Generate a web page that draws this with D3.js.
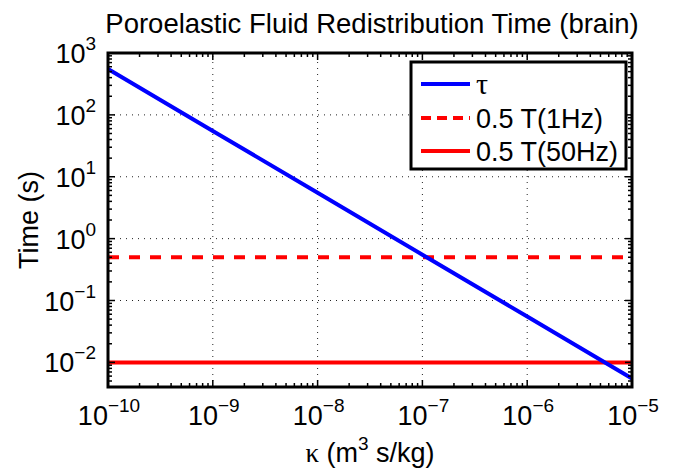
<!DOCTYPE html>
<html>
<head>
<meta charset="utf-8">
<script src="https://cdn.jsdelivr.net/npm/d3@7"></script>
<style>
  body { margin: 0; background: #fff; }
  text { font-family: "Liberation Sans", Arial, Helvetica, sans-serif; fill: #000; }
</style>
</head>
<body>
<div id="chart"></div>
<script>
// permeability values (m^3 s/kg) and the redistribution time
const kappa = [1e-10, 1e-9, 1e-8, 1e-7, 1e-6, 1e-5];
const tau = [550, 55, 5.5, 0.55, 0.055, 0.0055];
// half periods of the loading
const halfT1Hz = [0.5, 0.5];
const halfT50Hz = [0.01, 0.01];
const kappaRange = [1e-10, 1e-5];
const timeRange = [0.004, 1000];
const xTickExps = [-10, -9, -8, -7, -6, -5];
const yTickExps = [-2, -1, 0, 1, 2, 3];
const legendLabels = ["τ", "0.5 T(1Hz)", "0.5 T(50Hz)"];

const width = 674, height = 468;
const margin = { top: 53, right: 42, bottom: 81, left: 108 };
const x0 = margin.left, x1 = width - margin.right;
const y0 = height - margin.bottom, y1 = margin.top;

const svg = d3.select("#chart").append("svg")
    .attr("width", width)
    .attr("height", height);

svg.append("rect").attr("width", width).attr("height", height).attr("fill", "#fff");

const x = d3.scaleLog().domain(kappaRange).range([x0, x1]);
const y = d3.scaleLog().domain(timeRange).range([y0, y1]);

// minor ticks 2..9 per decade inside the domain
function minorTicks(scale) {
    const [a, b] = scale.domain();
    const out = [];
    for (let e = Math.floor(Math.log10(a)); e <= Math.ceil(Math.log10(b)); e++) {
        for (let m = 2; m <= 9; m++) {
            const v = m * Math.pow(10, e);
            if (v > a && v < b) out.push(v);
        }
    }
    return out;
}

// grid (dotted)
const grid = svg.append("g")
    .attr("stroke", "#222")
    .attr("stroke-width", 1)
    .attr("stroke-dasharray", "1,5");
xTickExps.slice(1, -1).forEach(e => {
    grid.append("line")
        .attr("x1", x(Math.pow(10, e))).attr("x2", x(Math.pow(10, e)))
        .attr("y1", y0).attr("y2", y1);
});
yTickExps.slice(0, -1).forEach(e => {
    grid.append("line")
        .attr("x1", x0).attr("x2", x1)
        .attr("y1", y(Math.pow(10, e))).attr("y2", y(Math.pow(10, e)));
});

// data lines
const plot = svg.append("g");
const line = d3.line().x(d => x(d[0])).y(d => y(d[1]));

plot.append("path")
    .datum(kappaRange.map((k, i) => [k, halfT50Hz[i]]))
    .attr("d", line)
    .attr("fill", "none")
    .attr("stroke", "#ff0000")
    .attr("stroke-width", 4);

plot.append("path")
    .datum(kappaRange.map((k, i) => [k, halfT1Hz[i]]))
    .attr("d", line)
    .attr("fill", "none")
    .attr("stroke", "#ff0000")
    .attr("stroke-width", 4)
    .attr("stroke-dasharray", "11,10");

plot.append("path")
    .datum(kappa.map((k, i) => [k, tau[i]]))
    .attr("d", line)
    .attr("fill", "none")
    .attr("stroke", "#0000ff")
    .attr("stroke-width", 4);

// ticks on all four sides, pointing inward
const ticks = svg.append("g").attr("stroke", "#000").attr("stroke-width", 1.5);
const majorLen = 7, minorLen = 4;
function xTick(v, len) {
    ticks.append("line").attr("x1", x(v)).attr("x2", x(v)).attr("y1", y0).attr("y2", y0 - len);
    ticks.append("line").attr("x1", x(v)).attr("x2", x(v)).attr("y1", y1).attr("y2", y1 + len);
}
function yTick(v, len) {
    ticks.append("line").attr("y1", y(v)).attr("y2", y(v)).attr("x1", x0).attr("x2", x0 + len);
    ticks.append("line").attr("y1", y(v)).attr("y2", y(v)).attr("x1", x1).attr("x2", x1 - len);
}
xTickExps.forEach(e => xTick(Math.pow(10, e), majorLen));
yTickExps.forEach(e => yTick(Math.pow(10, e), majorLen));
minorTicks(x).forEach(v => xTick(v, minorLen));
minorTicks(y).forEach(v => yTick(v, minorLen));

// axes box
svg.append("rect")
    .attr("x", x0).attr("y", y1)
    .attr("width", x1 - x0).attr("height", y0 - y1)
    .attr("fill", "none")
    .attr("stroke", "#000")
    .attr("stroke-width", 3);

// tick labels 10^n
function powLabel(sel, e) {
    sel.append("tspan").text("10");
    sel.append("tspan")
        .attr("dy", -13)
        .style("font-size", "19px")
        .text(e < 0 ? "\u2212" + (-e) : String(e));
}
xTickExps.forEach(e => {
    const t = svg.append("text")
        .attr("x", x(Math.pow(10, e)) + 1)
        .attr("y", 425)
        .attr("text-anchor", "middle")
        .style("font-size", "27px");
    powLabel(t, e);
});
yTickExps.forEach(e => {
    const t = svg.append("text")
        .attr("x", 96)
        .attr("y", y(Math.pow(10, e)) + 10)
        .attr("text-anchor", "end")
        .style("font-size", "27px");
    powLabel(t, e);
});

// title and axis labels
svg.append("text")
    .attr("x", 372)
    .attr("y", 33)
    .attr("text-anchor", "middle")
    .style("font-size", "27.5px")
    .text("Poroelastic Fluid Redistribution Time (brain)");

const xl = svg.append("text")
    .attr("x", (x0 + x1) / 2)
    .attr("y", 462)
    .attr("text-anchor", "middle")
    .style("font-size", "27px");
xl.append("tspan").style("font-family", "'Liberation Serif', serif").text("κ");
xl.append("tspan").text(" (m");
xl.append("tspan").attr("dy", -12).style("font-size", "19px").text("3");
xl.append("tspan").attr("dy", 12).text(" s/kg)");

svg.append("text")
    .attr("transform", `translate(38, ${(y0 + y1) / 2}) rotate(-90)`)
    .attr("text-anchor", "middle")
    .style("font-size", "27px")
    .text("Time (s)");

// legend
const legend = svg.append("g");
legend.append("rect")
    .attr("x", 411).attr("y", 62)
    .attr("width", 215).attr("height", 107)
    .attr("fill", "#fff")
    .attr("stroke", "#000")
    .attr("stroke-width", 3);
const legendStyles = [
    { color: "#0000ff", dash: null },
    { color: "#ff0000", dash: "10,6" },
    { color: "#ff0000", dash: null }
];
const rowY = [84, 118, 151];
legendLabels.forEach((lab, i) => {
    legend.append("line")
        .attr("x1", 421).attr("x2", 470)
        .attr("y1", rowY[i]).attr("y2", rowY[i])
        .attr("stroke", legendStyles[i].color)
        .attr("stroke-width", 4)
        .attr("stroke-dasharray", legendStyles[i].dash);
    const t = legend.append("text")
        .attr("x", 476)
        .attr("y", rowY[i] + 10)
        .style("font-size", i === 0 ? "30px" : "27px")
        .text(lab);
    if (i === 0) t.style("font-family", "'Liberation Serif', serif");
});
</script>
</body>
</html>
